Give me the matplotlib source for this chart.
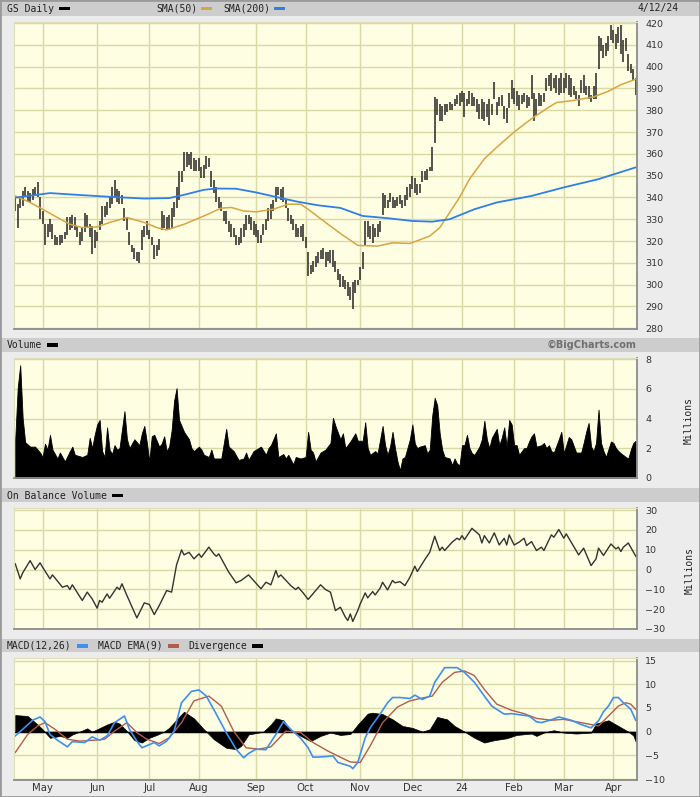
import numpy as np
import pandas as pd
import matplotlib
matplotlib.use("Agg")
import matplotlib.pyplot as plt
from matplotlib.patches import Rectangle

# NYSE trading calendar, 4/14/23 .. 4/12/24
holidays = ["2023-05-29", "2023-06-19", "2023-07-04", "2023-09-04", "2023-11-23",
            "2023-12-25", "2024-01-01", "2024-01-15", "2024-02-19", "2024-03-29"]
dates = pd.bdate_range("2023-04-14", "2024-04-12", freq="C", holidays=holidays)

# daily high / low (one bar per trading day)
price_high = [340, 337, 340, 343, 345, 343, 342, 344, 345, 347, 340, 334, 328, 328, 330, 328, 323, 322,
              323, 323, 324, 331, 331, 332, 331, 327, 324, 326, 333, 332, 328, 327, 325, 324, 329, 336,
              336, 338, 340, 345, 348, 344, 343, 341, 335, 331, 324, 318, 317, 315, 315, 325, 327, 329,
              325, 322, 318, 318, 321, 334, 332, 331, 332, 335, 338, 345, 352, 352, 361, 361, 360, 361,
              358, 357, 358, 354, 355, 359, 358, 352, 348, 345, 340, 338, 334, 334, 329, 328, 326, 323,
              322, 326, 328, 332, 332, 331, 329, 328, 325, 323, 328, 330, 335, 337, 339, 345, 345, 344,
              345, 339, 335, 332, 330, 328, 326, 327, 328, 322, 315, 309, 311, 313, 315, 316, 317, 315,
              315, 316, 316, 311, 307, 305,
              304, 302, 301, 299, 301, 302, 302, 308, 315, 329, 329, 327, 328, 326, 328, 329, 342, 341,
              339, 342, 340, 339, 340, 341, 339, 341, 345, 346, 350, 349, 346, 346, 352, 352, 353, 354,
              363, 386, 385, 383, 382, 383, 383, 384, 383, 385, 387, 388, 389, 388, 385, 389, 388, 386,
              385, 383, 385, 384, 383, 385, 383, 393, 384, 386, 387, 382, 381, 388, 394, 390, 389, 387,
              387, 388, 387, 386, 396, 388, 385, 388, 387, 388, 395, 396, 397, 395, 396, 395, 397, 395,
              397, 396, 395, 391, 389, 387, 394, 396, 391, 391, 387, 391, 397, 414, 413, 410, 411, 414,
              419, 417, 415, 418, 419, 412, 413, 406, 401, 399, 395]
price_low = [334, 326, 335, 336, 340, 338, 338, 339, 341, 340, 330, 328, 318, 322, 324, 321, 318, 318,
             318, 319, 321, 323, 325, 326, 325, 322, 318, 320, 324, 326, 322, 314, 317, 320, 325, 328,
             331, 332, 335, 337, 340, 338, 337, 337, 329, 325, 318, 315, 312, 311, 310, 316, 322, 323,
             321, 318, 312, 313, 316, 325, 326, 325, 325, 326, 331, 335, 339, 347, 352, 354, 355, 353,
             352, 352, 352, 349, 349, 353, 354, 345, 342, 338, 335, 334, 329, 328, 324, 322, 322, 318,
             318, 319, 322, 325, 328, 325, 323, 322, 319, 319, 323, 325, 329, 330, 334, 338, 341, 339,
             338, 335, 329, 328, 325, 322, 322, 322, 320, 317, 304, 305, 306, 308, 310, 312, 312, 308,
             311, 310, 308, 306, 302, 299,
             299, 298, 295, 293, 289, 296, 300, 302, 307, 318, 322, 321, 319, 322, 322, 324, 332, 335,
             335, 338, 335, 335, 336, 337, 335, 336, 339, 340, 344, 342, 341, 342, 347, 348, 348, 352,
             352, 365, 378, 375, 375, 378, 379, 380, 380, 382, 383, 382, 384, 377, 382, 383, 382, 382,
             379, 376, 376, 375, 377, 373, 378, 385, 378, 382, 382, 376, 374, 381, 385, 383, 382, 380,
             383, 384, 381, 382, 385, 375, 378, 382, 382, 384, 389, 391, 389, 390, 388, 387, 388, 388,
             390, 387, 386, 387, 385, 382, 388, 388, 387, 385, 384, 385, 385, 399, 407, 404, 405, 407,
             412, 411, 408, 411, 406, 402, 407, 398, 397, 394, 387]

sma50_pts = [(0, 340.7), (6, 337.7), (11, 334.6), (17, 330.8), (22, 327.7), (27, 326.2), (33, 326.5),
             (38, 328.5), (45, 330.8), (52, 328.5), (57, 326.2), (61, 325.1), (68, 327.7), (76, 331.5),
             (83, 335.1), (87, 335.4), (92, 333.8), (97, 333.4), (104, 334.6), (110, 336.9), (115, 336.9),
             (118, 334.6), (126, 327.7), (131, 323.5), (138, 318.0), (146, 317.7), (152, 319.2),
             (159, 318.9), (167, 322.3), (171, 326.1), (179, 340.0), (183, 348.4), (189, 357.7),
             (194, 363.0), (201, 370.0), (208, 376.1), (214, 380.7), (218, 383.5), (225, 384.5),
             (233, 386.1), (239, 388.7), (244, 391.7), (250, 394.2)]
sma200_pts = [(0, 339.9), (14, 342.0), (25, 341.2), (38, 340.3), (52, 339.5), (62, 339.7), (68, 341.2),
              (76, 343.5), (81, 344.1), (89, 344.0), (97, 342.3), (106, 340.0), (114, 338.0), (122, 336.4),
              (131, 335.2), (140, 331.5), (150, 330.5), (160, 329.2), (168, 328.9), (175, 330.0),
              (185, 334.6), (194, 337.7), (208, 340.7), (221, 344.6), (235, 348.4), (250, 353.8)]

# volume, millions
vol_pts = [(0, 2.6), (1, 6.1), (2, 7.6), (3, 4.0), (4, 2.4), (6, 2.1), (8, 2.1), (10, 1.7), (11, 1.4),
           (12, 2.3), (13, 1.9), (14, 2.9), (15, 1.9), (17, 1.3), (18, 1.7), (20, 1.1), (22, 1.8), (23, 2.1),
           (24, 1.55), (27, 1.4), (29, 1.55), (30, 2.7), (31, 2.0), (32, 2.9), (33, 3.6), (34, 3.9),
           (35, 1.8), (36, 1.4), (37, 3.4), (38, 1.9), (39, 1.6), (40, 2.2), (41, 1.9), (42, 2.0),
           (43, 3.25), (44, 4.5), (45, 2.6), (46, 2.0), (47, 2.3), (48, 2.6), (50, 2.2), (51, 3.0),
           (52, 3.5), (53, 2.4), (54, 1.1), (55, 2.8), (56, 2.9), (58, 2.1), (59, 2.3), (60, 2.8),
           (61, 1.8), (62, 2.1), (63, 3.2), (64, 5.2), (65, 6.05), (66, 3.9), (67, 3.5), (68, 3.1),
           (70, 2.6), (71, 2.0), (72, 1.8), (74, 2.1), (75, 1.9), (76, 1.55), (78, 1.4), (79, 1.9),
           (80, 1.3), (83, 1.3), (84, 2.3), (85, 3.3), (86, 2.1), (88, 1.8), (90, 1.2), (92, 1.3),
           (93, 1.7), (94, 1.2), (96, 1.8), (98, 2.0), (99, 2.1), (101, 1.55), (102, 2.0), (103, 2.2),
           (105, 3.0), (106, 1.4), (108, 1.6), (109, 1.3), (110, 1.55), (112, 0.9), (113, 1.4),
           (115, 1.3), (117, 1.4), (118, 3.1), (119, 1.9), (120, 1.7), (121, 1.1), (123, 1.7),
           (125, 1.9), (127, 2.35), (128, 4.05), (129, 3.5), (131, 2.6), (132, 3.0), (133, 2.0),
           (135, 2.45), (137, 3.0), (138, 2.5), (140, 2.5), (141, 3.75), (142, 2.0), (143, 1.55),
           (145, 1.8), (146, 1.65), (148, 3.5), (149, 2.2), (150, 1.55), (151, 2.1), (152, 3.1),
           (153, 2.0), (154, 1.1), (155, 0.5), (156, 1.3), (157, 1.4), (158, 2.0), (159, 2.6),
           (160, 3.6), (161, 2.3), (162, 2.0), (163, 2.1), (165, 2.2), (166, 1.65), (167, 1.9),
           (168, 4.2), (169, 5.4), (170, 4.9), (171, 3.0), (172, 1.9), (173, 1.4), (175, 1.3),
           (176, 0.85), (177, 1.3), (178, 0.95), (179, 0.85), (180, 2.2), (181, 2.2), (182, 2.9),
           (183, 2.0), (184, 1.65), (185, 1.55), (187, 2.1), (188, 2.6), (189, 3.85), (190, 2.6),
           (191, 2.0), (192, 2.7), (193, 3.0), (194, 3.3), (195, 2.2), (196, 2.7), (197, 3.4),
           (198, 2.1), (199, 3.9), (200, 3.6), (201, 2.2), (202, 2.2), (203, 1.55), (205, 2.0),
           (206, 2.0), (207, 2.45), (208, 2.8), (209, 3.0), (210, 2.1), (212, 2.2), (213, 2.35),
           (214, 2.0), (215, 2.2), (216, 1.8), (217, 1.7), (219, 2.6), (220, 3.1), (221, 1.65),
           (222, 2.2), (223, 2.75), (224, 2.6), (226, 1.7), (228, 1.7), (229, 2.35), (230, 3.1),
           (231, 3.7), (232, 2.1), (233, 1.8), (234, 2.35), (235, 4.6), (236, 2.35), (237, 1.8),
           (238, 1.4), (240, 2.45), (241, 2.35), (242, 2.0), (243, 1.8), (244, 1.65), (246, 1.4),
           (247, 1.3), (248, 1.9), (249, 2.35), (250, 2.5)]

# on balance volume, millions
obv_pts = [(0, 2.9), (2, -4.7), (3, -1.7), (6, 4.5), (8, 0.0), (10, 3.4), (11, 1.2), (14, -4.7),
           (15, -2.7), (19, -8.9), (21, -8.1), (22, -10.1), (23, -7.7), (27, -15.6), (29, -11.4),
           (31, -14.8), (33, -19.5), (34, -15.6), (35, -16.5), (37, -12.3), (38, -14.5), (41, -8.9),
           (42, -10.1), (43, -7.2), (45, -13.1), (49, -24.4), (52, -16.8), (54, -17.6), (56, -22.7),
           (58, -18.2), (61, -10.6), (63, -11.4), (65, 2.4), (67, 9.9), (68, 7.4), (70, 8.7), (72, 5.4),
           (74, 7.9), (75, 6.2), (78, 11.3), (80, 7.9), (81, 6.7), (82, 7.9), (86, -1.3), (89, -6.7),
           (91, -5.5), (94, -2.7), (99, -9.7), (101, -6.4), (103, -7.7), (105, -0.5), (106, -3.9),
           (107, -2.7), (111, -8.1), (113, -10.1), (114, -8.9), (116, -11.8), (118, -15.1), (123, -7.7),
           (125, -10.1), (127, -11.4), (129, -20.7), (131, -19.0), (133, -24.0), (134, -25.7),
           (135, -22.4), (136, -26.2), (138, -20.7), (139, -17.3), (141, -11.8), (142, -14.3),
           (144, -11.1), (145, -12.8), (147, -9.4), (148, -6.4), (150, -10.3), (152, -5.5), (153, -6.7),
           (155, -6.1), (157, -8.1), (159, -3.9), (161, 1.7), (162, -1.0), (165, 5.0), (167, 8.7),
           (169, 16.8), (171, 9.6), (172, 11.3), (173, 9.6), (176, 13.8), (178, 15.8), (179, 15.0),
           (180, 17.1), (181, 15.1), (184, 20.8), (187, 17.5), (188, 13.4), (189, 17.1), (191, 13.4),
           (193, 18.5), (195, 12.4), (197, 15.8), (198, 12.4), (199, 17.5), (201, 12.4), (203, 13.8),
           (205, 15.8), (206, 12.1), (208, 14.1), (210, 9.6), (212, 11.3), (213, 9.6), (216, 17.5),
           (217, 16.3), (219, 20.2), (221, 15.8), (222, 18.0), (227, 7.4), (229, 10.8), (232, 2.0),
           (234, 5.4), (235, 10.8), (237, 7.1), (240, 12.9), (242, 10.4), (243, 11.3), (244, 9.1),
           (245, 11.3), (247, 13.4), (250, 6.7)]

macd_pts = [(0, -0.9), (3, 0.5), (7, 2.4), (10, 3.1), (12, 2.1), (14, -0.6), (17, -1.8), (21, -3.2),
            (23, -2.1), (28, -2.3), (31, -1.1), (34, -1.8), (37, -0.9), (40, 1.9), (44, 3.3), (46, 0.5),
            (49, -2.0), (51, -3.4), (56, -2.3), (58, -3.0), (61, -2.0), (64, 0.1), (67, 6.1), (71, 8.5),
            (74, 8.8), (77, 7.5), (81, 3.7), (85, -0.2), (89, -3.7), (92, -5.5), (94, -4.6), (97, -3.7),
            (101, -3.8), (105, -0.6), (108, 2.1), (111, 0.5), (115, -1.4), (118, -3.4), (120, -5.4),
            (124, -5.3), (128, -5.1), (130, -6.5), (135, -7.3), (136, -7.8), (138, -6.5), (141, -1.3),
            (143, 0.8), (147, 3.7), (150, 6.1), (152, 7.2), (155, 7.2), (159, 7.0), (161, 7.7),
            (164, 6.8), (167, 7.5), (169, 10.4), (173, 13.5), (178, 13.5), (181, 12.5), (185, 10.4),
            (189, 7.5), (192, 5.4), (194, 4.7), (197, 3.7), (200, 3.8), (204, 3.5), (207, 3.3),
            (210, 2.1), (212, 1.9), (216, 2.5), (219, 3.1), (224, 2.4), (228, 1.5), (232, 0.8),
            (235, 2.3), (237, 4.2), (239, 5.4), (241, 7.2), (243, 7.2), (245, 6.1), (248, 4.7), (250, 2.4)]
ema_pts = [(0, -4.4), (5, -0.6), (9, 1.2), (12, 1.9), (16, 0.5), (21, -1.6), (26, -2.0), (32, -1.8),
           (36, -1.6), (40, 0.1), (45, 1.9), (49, -0.2), (53, -1.6), (58, -2.5), (62, -1.3), (67, 1.9),
           (72, 6.5), (78, 7.5), (83, 5.4), (88, 0.1), (93, -3.4), (98, -3.7), (103, -3.2), (109, 0.1),
           (115, -0.2), (120, -2.3), (126, -4.1), (131, -5.4), (135, -6.4), (139, -6.5), (143, -3.0),
           (148, 1.9), (154, 5.2), (159, 6.5), (165, 7.2), (168, 7.5), (172, 10.4), (177, 12.5),
           (181, 12.8), (185, 11.8), (189, 8.9), (194, 5.8), (200, 4.5), (205, 3.8), (210, 2.8),
           (216, 2.4), (221, 2.6), (226, 2.1), (232, 1.5), (235, 1.2), (239, 3.3), (243, 5.4),
           (246, 6.1), (248, 5.8), (250, 4.7)]
div_pts = [(0, 3.5), (5, 3.3), (7, 2.4), (9, 1.5), (11, 0.5), (14, -1.3), (18, -0.9), (21, -1.3),
           (23, -0.6), (26, 0.0), (29, 0.7), (31, 0.0), (37, 1.5), (40, 2.1), (42, 1.7), (45, 0.1),
           (48, -1.8), (51, -2.3), (54, -1.3), (57, -0.7), (60, 0.0), (62, 0.8), (66, 3.1), (68, 4.2),
           (72, 2.8), (76, 0.5), (80, -1.6), (85, -3.4), (89, -3.7), (91, -3.0), (94, -0.6), (100, 0.0),
           (103, 1.5), (105, 2.8), (108, 2.4), (111, 0.3), (115, -0.9), (119, -2.0), (123, -0.9),
           (127, -0.2), (131, -0.7), (135, -0.5), (138, 1.5), (142, 3.8), (144, 4.0), (148, 3.7),
           (152, 2.6), (156, 1.2), (160, 0.8), (164, 0.0), (167, 0.5), (170, 3.1), (174, 2.6),
           (177, 1.2), (181, 0.0), (185, -1.3), (189, -2.3), (193, -1.8), (198, -1.4), (202, -0.7),
           (208, -0.4), (210, -0.9), (213, -0.2), (217, 0.3), (221, -0.2), (226, -0.4), (232, -0.2),
           (234, 1.7), (239, 2.4), (242, 1.5), (247, 0.0), (249, -0.8), (250, -2.1)]

# ---------------------------------------------------------------------------
W, H = 700, 797
BG = "#ececec"
BAR = "#cdcdcd"
PLOT_BG = "#fefee2"
GRID = "#d9d9a6"
MONO = "DejaVu Sans Mono"

def fx(px):
    return px / W

def fy(py):
    return 1 - py / H

def unzip(pts):
    a, b = zip(*pts)
    return list(a), list(b)

days = np.arange(len(dates))
new_month = np.where(dates.month[1:] != dates.month[:-1])[0] + 1
month_labels = [dates[i].strftime("%y") if dates[i].month == 1 else dates[i].strftime("%b")
                for i in new_month]

fig = plt.figure(figsize=(W / 100, H / 100), dpi=100, facecolor=BG)

def header(y0, y1):
    fig.add_artist(Rectangle((0, fy(y1)), 1, (y1 - y0) / H, transform=fig.transFigure,
                             facecolor=BAR, edgecolor="none", zorder=0))

def swatch(x, y, color):
    fig.add_artist(Rectangle((fx(x), fy(y + 1.8)), 11 / W, 3.6 / H, transform=fig.transFigure,
                             facecolor=color, edgecolor="none"))

def label(x, y, s, **kw):
    opts = dict(family=MONO, fontsize=7, va="center", ha="left", color="#222222")
    opts.update(kw)
    fig.text(fx(x), fy(y), s, **opts)

def panel(top, bottom, ylim, yticks):
    ax = fig.add_axes([fx(14), fy(bottom), 623 / W, (bottom - top) / H])
    ax.set_facecolor(PLOT_BG)
    ax.set_xlim(-0.5, len(dates) - 0.5)
    ax.set_ylim(*ylim)
    ax.set_xticks(new_month)
    ax.set_yticks(yticks)
    ax.grid(True, color=GRID, lw=1.0)
    ax.set_axisbelow(True)
    ax.yaxis.tick_right()
    ax.tick_params(length=0, labelsize=6.8, pad=6, colors="#333333")
    ax.tick_params(axis="x", labelbottom=False)
    for side in ["top", "left"]:
        ax.spines[side].set_color("#dedeb8")
    for side in ["bottom", "right"]:
        ax.spines[side].set_color("#8c8c8c")
        ax.spines[side].set_linewidth(1.3)
    return ax

# headers
header(0, 16)
header(338, 352)
header(488, 502)
header(639, 652)

label(7, 8.5, "GS Daily")
swatch(59, 8.5, "black")
label(156, 8.5, "SMA(50)")
swatch(201, 8.5, "#d9a441")
label(223, 8.5, "SMA(200)")
swatch(274, 8.5, "#2f7fe8")
label(638, 8.5, "4/12/24")

label(7, 345, "Volume")
swatch(47, 345, "black")
fig.text(fx(637), fy(345), "\u00a9BigCharts.com", fontsize=7, fontweight="bold", color="#707070",
         ha="right", va="center")

label(7, 495.5, "On Balance Volume")
swatch(112, 495.5, "black")

label(7, 646, "MACD(12,26)")
swatch(77, 646, "#3f8fef")
label(98, 646, "MACD EMA(9)")
swatch(168, 646, "#b25c4e")
label(188, 646, "Divergence")
swatch(252, 646, "black")

# price panel
ax1 = panel(21.7, 328.5, (279.9, 420.6), np.arange(280, 421, 10))
ax1.vlines(days, price_low, price_high, color="#262626", lw=1.1)
d50, v50 = unzip(sma50_pts)
ax1.plot(d50, v50, color="#d9a441", lw=1.1)
d200, v200 = unzip(sma200_pts)
ax1.plot(d200, v200, color="#2f7fe8", lw=1.3)

# volume panel
ax2 = panel(358.3, 478.3, (-0.04, 8.07), [0, 2, 4, 6, 8])
vd, vv = unzip(vol_pts)
ax2.fill_between(vd, vv, 0, color="black", lw=0.6, edgecolor="black")
label(689, 420, "Millions", rotation=90, ha="center", fontsize=7)

# OBV panel
ax3 = panel(507.7, 629, (-30, 31.2), np.arange(-30, 31, 10))
od, ov = unzip(obv_pts)
ax3.plot(od, ov, color="#333333", lw=1.0)
label(690, 570, "Millions", rotation=90, ha="center", fontsize=7)

# MACD panel
ax4 = panel(657.7, 780, (-10.2, 15.6), np.arange(-10, 16, 5))
dd, dv = unzip(div_pts)
ax4.fill_between(dd, dv, 0, color="black", lw=0.5, edgecolor="black")
ax4.axhline(0, color="black", lw=1.0)
md, mv = unzip(macd_pts)
ed, ev = unzip(ema_pts)
ax4.plot(ed, ev, color="#b25c4e", lw=1.0)
ax4.plot(md, mv, color="#3f8fef", lw=1.2)
ax4.tick_params(axis="x", labelbottom=True, pad=2, labelsize=7.3)
ax4.set_xticklabels(month_labels)

# outer frame
fig.add_artist(Rectangle((0, 0), 1, 1, transform=fig.transFigure, facecolor="none",
                         edgecolor="#9a9a9a", lw=2))

fig.savefig("out.png", dpi=100, facecolor=BG)
